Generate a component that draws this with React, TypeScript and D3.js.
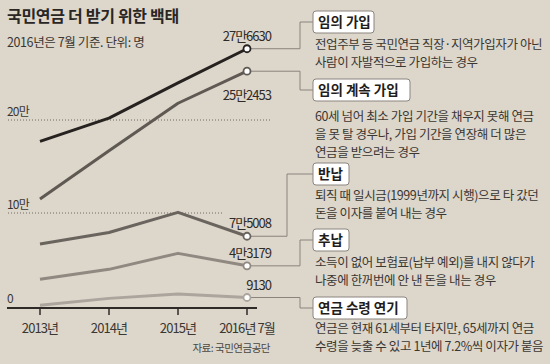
import React from "react";
import * as d3 from "d3";

// 국민연금 더 받기 위한 백태 (2016년은 7월 기준, 단위: 명)
const categories = ["2013년", "2014년", "2015년", "2016년 7월"];
const voluntary = [177000, 202000, 240000, 276630];
const continued = [115000, 167000, 218000, 252453];
const refund = [66700, 79000, 100700, 75008];
const backPay = [28700, 39400, 56600, 43179];
const deferred = [700, 8200, 12900, 9130];
const lastLabels = ["27만6630", "25만2453", "7만5008", "4만3179", "9130"];
const yTicks = [0, 100000, 200000];
const yTickLabels = ["0", "10만", "20만"];

const titles = ["임의 가입", "임의 계속 가입", "반납", "추납", "연금 수령 연기"];
const descriptions = [
  ["전업주부 등 국민연금 직장·지역가입자가 아닌", "사람이 자발적으로 가입하는 경우"],
  ["60세 넘어 최소 가입 기간을 채우지 못해 연금", "을 못 탈 경우나, 가입 기간을 연장해 더 많은", "연금을 받으려는 경우"],
  ["퇴직 때 일시금(1999년까지 시행)으로 타 갔던", "돈을 이자를 붙여 내는 경우"],
  ["소득이 없어 보험료(납부 예외)를 내지 않다가", "나중에 한꺼번에 안 낸 돈을 내는 경우"],
  ["연금은 현재 61세부터 타지만, 65세까지 연금", "수령을 늦출 수 있고 1년에 7.2%씩 이자가 붙음"],
];

const series = [voluntary, continued, refund, backPay, deferred];
const colors = ["#26221f", "#5f5953", "#6a645e", "#8f8982", "#aba59e"];

// layout for the callouts
const boxCenters = [22, 90, 174, 240, 308];
const boxWidths = [61, 97, 36, 36, 94];
const descStarts = [49, 121, 200, 267, 333];
const elbowX = [300, 300, 287, 300, 300];
const labelBelow = [false, true, false, false, false];

const W = 550;
const H = 364;
const FONT = "'Noto Sans CJK KR', 'Noto Sans', sans-serif";

export default function App() {
  const x = d3.scalePoint<string>().domain(categories).range([40, 247]);
  const y = d3.scaleLinear().domain([0, 100000]).range([306, 213]);
  const line = d3
    .line<number>()
    .x((_, i) => x(categories[i]) as number)
    .y((d) => y(d));

  const lastX = x(categories[categories.length - 1]) as number;
  const boxX = 313;
  const connector = "#8a847e";

  return (
    <svg
      width={W}
      height={H}
      style={{ position: "absolute", left: 0, top: 0, fontFamily: FONT }}
    >
      <rect width={W} height={H} fill="#ddd6cb" />

      <text x={7} y={22} fontSize={16} fontWeight={700} fill="#2a2623" letterSpacing={-0.3}>
        국민연금 더 받기 위한 백태
      </text>
      <text x={7} y={47} fontSize={12.5} fill="#3a3632" letterSpacing={-0.4}>
        2016년은 7월 기준. 단위: 명
      </text>

      {/* grid */}
      {yTicks.map((t, i) => (
        <g key={t}>
          {t > 0 && (
            <line
              x1={8}
              x2={t === 100000 ? 222 : 270}
              y1={y(t)}
              y2={y(t)}
              stroke="#6f6a64"
              strokeWidth={1}
              strokeDasharray="1 2"
            />
          )}
          <text
            x={7}
            y={y(t) - (t > 0 ? 4 : 3)}
            fontSize={12}
            fill="#3a3632"
            letterSpacing={-0.8}
          >
            {yTickLabels[i]}
          </text>
        </g>
      ))}

      {/* connectors */}
      {series.map((s, i) => {
        const yc = y(s[s.length - 1]);
        const yb = boxCenters[i];
        return (
          <path
            key={"c" + i}
            d={`M${lastX},${yc}H${elbowX[i]}V${yb}H${boxX}`}
            fill="none"
            stroke={connector}
            strokeWidth={1}
          />
        );
      })}

      {/* lines */}
      {series
        .map((s, i) => (
          <path
            key={"l" + i}
            d={line(s) as string}
            fill="none"
            stroke={colors[i]}
            strokeWidth={3}
            strokeLinejoin="round"
          />
        ))
        .reverse()}

      {/* axis */}
      <line x1={7} x2={257} y1={308} y2={308} stroke="#2e2a27" strokeWidth={2} />
      {categories.map((c) => (
        <g key={c}>
          <line
            x1={x(c)}
            x2={x(c)}
            y1={308}
            y2={315}
            stroke="#2e2a27"
            strokeWidth={1.5}
          />
          <text
            x={x(c)}
            y={333}
            textAnchor="middle"
            fontSize={13}
            fill="#3a3632"
            letterSpacing={-0.9}
          >
            {c}
          </text>
        </g>
      ))}
      <text
        x={270}
        y={352}
        textAnchor="end"
        fontSize={10.5}
        fill="#4a4642"
        letterSpacing={-0.5}
      >
        자료: 국민연금공단
      </text>

      {/* end markers and values */}
      {series.map((s, i) => {
        const yc = y(s[s.length - 1]);
        return (
          <g key={"m" + i}>
            <circle
              cx={lastX}
              cy={yc}
              r={3.5}
              fill="#fff"
              stroke={colors[i]}
              strokeWidth={1.8}
            />
            <text
              x={271}
              y={labelBelow[i] ? yc + 29 : yc - 8}
              textAnchor="end"
              fontSize={13}
              fill="#2e2a27"
              letterSpacing={-1}
            >
              {lastLabels[i]}
            </text>
          </g>
        );
      })}

      {/* callouts */}
      {titles.map((t, i) => (
        <g key={"t" + i}>
          <rect
            x={boxX}
            y={boxCenters[i] - 11}
            width={boxWidths[i]}
            height={22}
            rx={3}
            fill="#fff"
            stroke="#8a847e"
            strokeWidth={1}
          />
          <text
            x={boxX + 5}
            y={boxCenters[i] + 5}
            fontSize={13.5}
            fontWeight={700}
            fill="#1f1c1a"
          >
            {t}
          </text>
          {descriptions[i].map((dline, j) => (
            <text
              key={j}
              x={boxX + 2}
              y={descStarts[i] + j * 18}
              fontSize={12.5}
              fill="#3a3632"
              letterSpacing={-0.4}
            >
              {dline}
            </text>
          ))}
        </g>
      ))}
    </svg>
  );
}
